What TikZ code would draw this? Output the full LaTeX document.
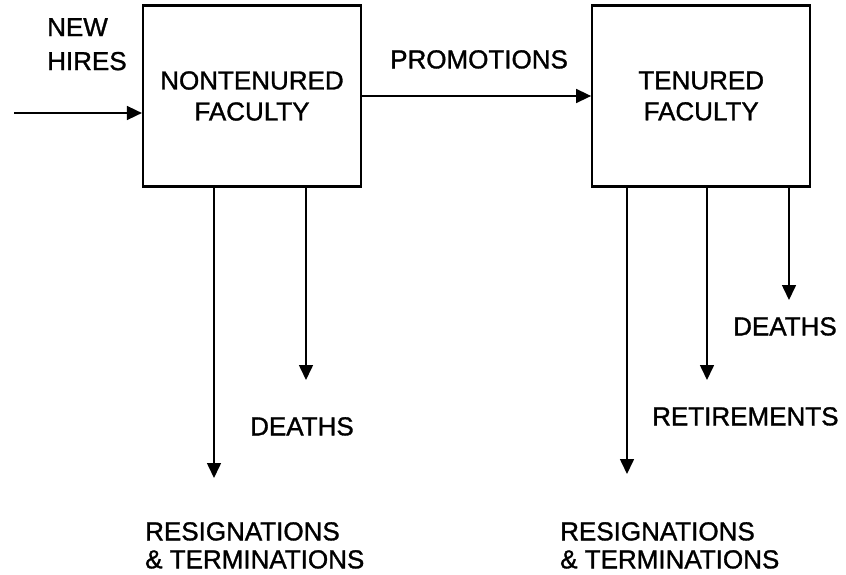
\documentclass[tikz,border=0pt]{standalone}
\usepackage{fontspec}
\setmainfont{Liberation Sans}
\newfontfamily\scanfont{Liberation Sans}[FakeBold=1.2]
\usetikzlibrary{arrows.meta,positioning}

\begin{document}
\begin{tikzpicture}[
    x=1pt,y=-1pt,
    >={Triangle[length=15pt,width=14pt]},
    stock/.style={rectangle,draw,line width=2.2pt,minimum width=218pt,minimum height=181pt,
                  inner sep=0pt,align=center,font=\scanfont\fontsize{26}{31}\selectfont},
    flow/.style={->,line width=1.6pt},
    lbl/.style={inner sep=0pt,anchor=north west,align=left,font=\scanfont\fontsize{26}{28}\selectfont}
]
\useasboundingbox (0,0) rectangle (846,575);

% Stocks
\node[stock] (nt) at (252,96) {NONTENURED\\FACULTY};
\node[stock,right=229pt of nt] (tf) {TENURED\\FACULTY};

% Flow ends
\coordinate (hin) at (14,113);
\coordinate (ntres) at (214,478);
\coordinate (ntdth) at (306,380);
\coordinate (tfres) at (627,474);
\coordinate (tfret) at (707,380);
\coordinate (tfdth) at (789,300);

% Flows
\draw[flow] (hin) -- (hin -| nt.west);
\draw[flow] (nt.east) -- (tf.west);
\draw[flow] (ntres |- nt.south) -- (ntres);
\draw[flow] (ntdth |- nt.south) -- (ntdth);
\draw[flow] (tfres |- tf.south) -- (tfres);
\draw[flow] (tfret |- tf.south) -- (tfret);
\draw[flow] (tfdth |- tf.south) -- (tfdth);

% Labels
\node[lbl,font=\scanfont\fontsize{26}{34}\selectfont] (hires) at (47,18) {NEW\\HIRES};
\node[lbl] (promo) at (390,50) {PROMOTIONS};
\node[lbl] (ntdthl) at (250,417) {DEATHS};
\node[lbl] (ntresl) at (145,522) {RESIGNATIONS\\\& TERMINATIONS};
\node[lbl] (tfdthl) at (733,317) {DEATHS};
\node[lbl] (tfretl) at (652,407) {RETIREMENTS};
\node[lbl] (tfresl) at (560,522) {RESIGNATIONS\\\& TERMINATIONS};

\end{tikzpicture}
\end{document}
